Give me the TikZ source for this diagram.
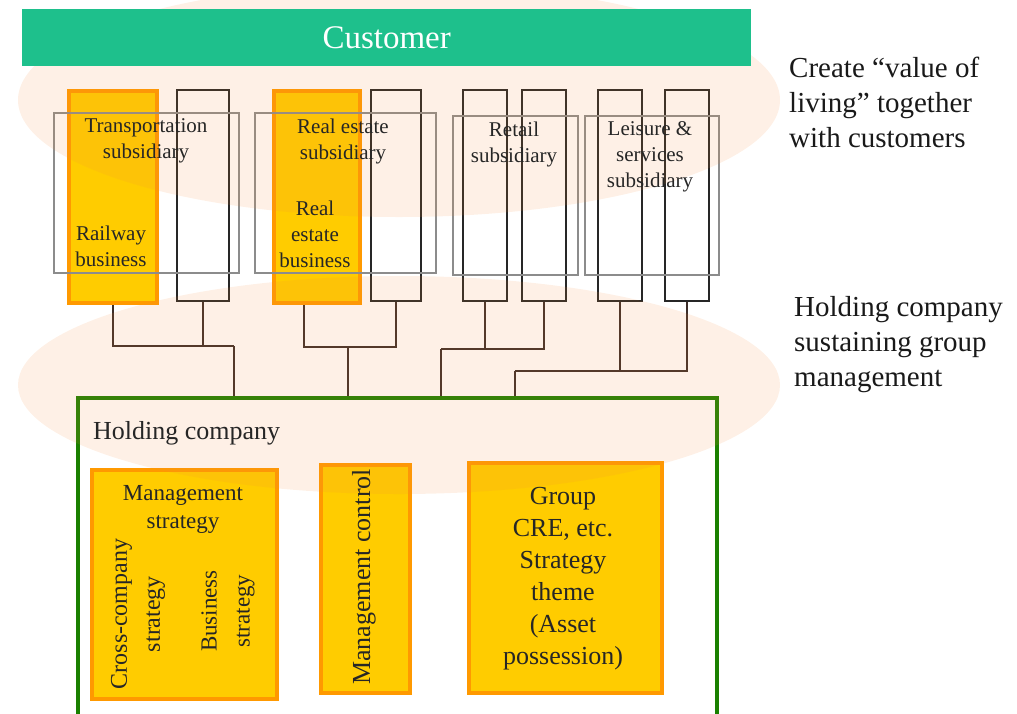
\documentclass[tikz,border=0pt]{standalone}
\usepackage{fontspec}
\setmainfont{Liberation Serif}
\definecolor{custc}{RGB}{30,192,140}
\definecolor{orb}{RGB}{255,153,0}
\definecolor{orf}{RGB}{255,204,0}
\definecolor{peach}{RGB}{246,140,60}
\definecolor{grn}{RGB}{26,128,0}
\definecolor{connc}{RGB}{60,45,40}
\definecolor{txt}{RGB}{38,38,38}
\begin{document}
\begin{tikzpicture}[x=1pt,y=-1pt,
  orbox/.style={draw=orb, fill=orf, line width=4pt, inner sep=0, anchor=north west},
  bbox/.style={draw=black!85, line width=1.8pt, inner sep=0, anchor=north west},
  gbox/.style={draw=black!45, line width=1.8pt, inner sep=0, anchor=north west},
  conn/.style={draw=connc, line width=1.8pt},
  lbl/.style={inner sep=0, align=center, text=txt},
  sub/.style={lbl, font=\fontsize{21}{26}\selectfont},
  side/.style={inner sep=0, align=left, anchor=west, text=black!90, font=\fontsize{29}{35}\selectfont},
  bot/.style={lbl, font=\fontsize{26}{32}\selectfont}]
\useasboundingbox (0,0) rectangle (1017,713);
\clip (0,0) rectangle (1017,713);
% tall business boxes
\node[orbox, minimum width=88, minimum height=212] (rail) at (67,89) {};
\node[bbox, minimum width=52, minimum height=211] (w1) at (176,89) {};
\node[orbox, minimum width=86, minimum height=212] (re) at (272,89) {};
\node[bbox, minimum width=50, minimum height=211] (w2) at (370,89) {};
\node[bbox, minimum width=44, minimum height=211] (t1) at (462,89) {};
\node[bbox, minimum width=44, minimum height=211] (t2) at (521,89) {};
\node[bbox, minimum width=44, minimum height=211] (l1) at (597,89) {};
\node[bbox, minimum width=44, minimum height=211] (l2) at (664,89) {};
% subsidiary boxes
\node[gbox, minimum width=185, minimum height=160] (gtr) at (53,112) {};
\node[gbox, minimum width=181, minimum height=160] (gre) at (254,112) {};
\node[gbox, minimum width=125, minimum height=159] (grt) at (452,115) {};
\node[gbox, minimum width=134, minimum height=159] (gls) at (584,115) {};
% holding company
\node[draw=grn, line width=3.5pt, minimum width=639, minimum height=340, anchor=north west, inner sep=0] (hold) at (76,396) {};
% connectors
\coordinate (j1) at (234,346);
\coordinate (j2) at (348,347);
\coordinate (j3) at (441,349);
\coordinate (j4) at (515,371);
\draw[conn] (rail.south) |- (j1);
\draw[conn] (w1.south) -- (w1.south |- j1);
\draw[conn] (j1) -- (j1 |- hold.north);
\draw[conn] ([xshift=-13pt]re.south) |- (j2);
\draw[conn] (w2.south) |- (j2);
\draw[conn] (j2) -- (j2 |- hold.north);
\draw[conn] (t2.south) |- (j3);
\draw[conn] (t1.south) -- (t1.south |- j3);
\draw[conn] (j3) -- (j3 |- hold.north);
\draw[conn] (l2.south) |- (j4);
\draw[conn] (l1.south) -- (l1.south |- j4);
\draw[conn] (j4) -- (j4 |- hold.north);
% bottom boxes
\node[orbox, minimum width=185, minimum height=229] (ms) at (90,468) {};
\node[orbox, minimum width=89, minimum height=228] (mc) at (319,463) {};
\node[orbox, minimum width=193, minimum height=230] (gc) at (467,461) {};
% ellipses
\fill[peach, opacity=0.13] (399,100) ellipse [x radius=381pt, y radius=117pt];
\fill[peach, opacity=0.13] (399,385) ellipse [x radius=381pt, y radius=109pt];
% customer bar
\node[fill=custc, minimum width=729, minimum height=57, anchor=north west, inner sep=0, text=white, font=\fontsize{33}{36}\selectfont] (cust) at (22,9) {Customer};
% labels
\node[sub] (ttr) at (146,141) {Transportation\\subsidiary};
\node[sub] (trail) at (111,246) {Railway\\business};
\node[sub] (tre) at (343,141) {Real estate\\subsidiary};
\node[sub] (treb) at (315,234) {Real\\estate\\business};
\node[sub] (trt) at (514,144) {Retail\\subsidiary};
\node[sub] (tls) at (650,157) {Leisure \&\\services\\subsidiary};
\node[side] (s1) at (789,102) {Create “value of\\living” together\\with customers};
\node[side] (s2) at (794,345) {Holding company\\sustaining group\\management};
\node[inner sep=0, anchor=west, text=txt, font=\fontsize{26}{32}\selectfont] (thold) at (93,433) {Holding company};
\node[lbl, font=\fontsize{23}{28}\selectfont] (tms) at (183,509) {Management\\strategy};
\node[lbl, rotate=90, font=\fontsize{24}{33}\selectfont] (tcc) at (138,614) {Cross-company\\strategy};
\node[lbl, rotate=90, font=\fontsize{23}{33}\selectfont] (tbs) at (228,611) {Business\\strategy};
\node[lbl, rotate=90, font=\fontsize{26}{32}\selectfont] (tmc) at (364,577) {Management control};
\node[bot] (tgc) at (563,579) {Group\\CRE, etc.\\Strategy\\theme\\(Asset\\possession)};
\end{tikzpicture}
\end{document}
